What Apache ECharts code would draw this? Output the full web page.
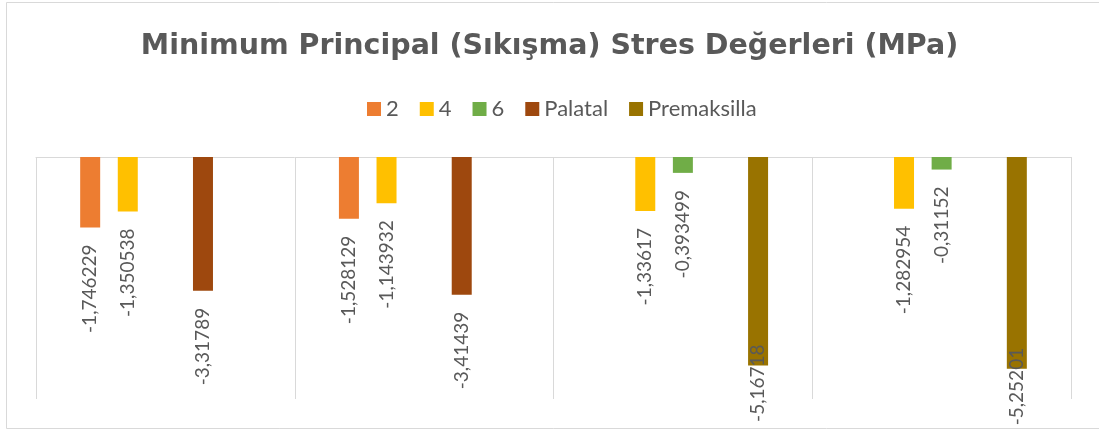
<!DOCTYPE html>
<html>
<head>
<meta charset="utf-8">
<script src="https://cdn.jsdelivr.net/npm/echarts@6/dist/echarts.min.js"></script>
<style>
  html, body { margin: 0; padding: 0; background: #fff; }
  #chart { width: 1099px; height: 429px; }
</style>
</head>
<body>
<div id="chart"></div>
<script>
  const categories = ['1', '2', '3', '4'];
  const seriesNames = ['2', '4', '6', 'Palatal', 'Premaksilla'];
  const values2 = [-1.746229, -1.528129, null, null];
  const values4 = [-1.350538, -1.143932, -1.33617, -1.282954];
  const values6 = [null, null, -0.393499, -0.31152];
  const valuesPalatal = [-3.31789, -3.41439, null, null];
  const valuesPremaksilla = [null, null, -5.16718, -5.25201];
  const colors = ['#ED7D31', '#FFC000', '#70AD47', '#9E480E', '#997300'];

  const chart = echarts.init(document.getElementById('chart'));
  const textColor = '#595959';
  const font = 'Lato, sans-serif';

  function formatLabel(p) {
    return String(p.value).replace('.', ',');
  }

  const allValues = [values2, values4, values6, valuesPalatal, valuesPremaksilla];
  const series = allValues.map((data, i) => ({
    name: seriesNames[i],
    type: 'bar',
    data,
    barWidth: 20,
    barGap: '88%',
    itemStyle: { color: colors[i] },
    label: {
      show: true,
      // the last series runs out of room, so its labels sit over the bar end
      position: i === 4 ? 'insideBottom' : 'bottom',
      distance: i === 4 ? 21 : 17,
      rotate: 90,
      align: 'right',
      verticalAlign: 'middle',
      color: textColor,
      fontFamily: font,
      fontSize: 19,
      formatter: formatLabel,
    },
  }));

  chart.setOption({
    animation: false,
    backgroundColor: '#fff',
    title: {
      text: 'Minimum Principal (Sıkışma) Stres Değerleri (MPa)',
      left: 'center',
      top: 27,
      textStyle: {
        color: textColor,
        fontFamily: 'DejaVu Sans, sans-serif',
        fontWeight: 'bold',
        fontSize: 28.5,
      },
    },
    legend: {
      data: seriesNames,
      left: 362,
      top: 93,
      icon: 'rect',
      itemWidth: 14,
      itemHeight: 14,
      itemGap: 21,
      textStyle: { color: textColor, fontFamily: font, fontSize: 22 },
    },
    grid: { left: 36, right: 28, top: 157, bottom: 30 },
    xAxis: {
      type: 'category',
      data: categories,
      position: 'top',
      axisLine: { show: true, lineStyle: { color: '#d9d9d9', width: 1 } },
      axisTick: { show: false },
      axisLabel: { show: false },
      splitLine: { show: true, lineStyle: { color: '#d9d9d9', width: 1 } },
    },
    yAxis: {
      type: 'value',
      min: -6,
      max: 0,
      axisLine: { show: false },
      axisTick: { show: false },
      axisLabel: { show: false },
      splitLine: { show: false },
    },
    graphic: [{
      type: 'rect',
      shape: { x: 6.5, y: 2.5, width: 1100, height: 426 },
      style: { fill: 'none', stroke: '#d9d9d9', lineWidth: 1 },
      silent: true,
    }],
    series,
  });
</script>
</body>
</html>
